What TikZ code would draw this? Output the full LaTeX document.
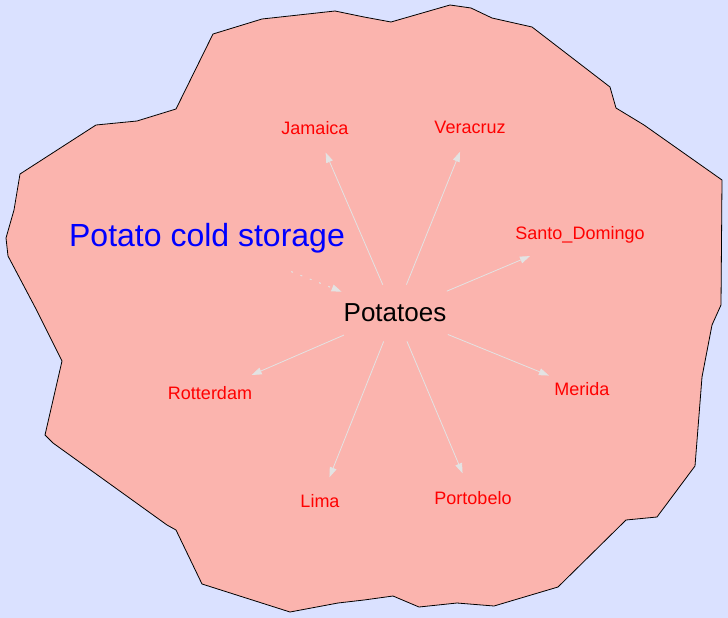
\documentclass[tikz,border=0pt]{standalone}
\usepackage{fontspec}
\setmainfont{Liberation Sans}
\usetikzlibrary{shapes.geometric,arrows.meta}
\definecolor{bgblue}{HTML}{DAE1FF}
\definecolor{salmon}{HTML}{FBB4AE}
\definecolor{edgegray}{HTML}{E3E3E3}
\begin{document}
\begin{tikzpicture}[x=1pt,y=-1pt,
  city/.style={ellipse, inner xsep=0pt, inner ysep=0pt, minimum height=50pt, text=red, font=\fontsize{18}{20}\selectfont},
  hub/.style={ellipse, inner xsep=5pt, inner ysep=0pt, minimum height=57pt, text=black, font=\fontsize{26}{28}\selectfont},
  lbl/.style={ellipse, inner xsep=0pt, inner ysep=0pt, minimum height=74pt, text=blue, font=\fontsize{32}{34}\selectfont},
  link/.style={draw=edgegray, line width=0.8pt, -{Triangle[length=10pt,width=7pt,fill=edgegray]}},
  region/.style={fill=salmon, draw=black, line width=0.8pt}]
\fill[bgblue] (0,0) rectangle (728,618);
\useasboundingbox (0,0) rectangle (728,618);
\path[region] (335,11) -- (364,17) -- (391,22) -- (450,5) -- (471,8) -- (492,18) -- (532,27) -- (610,87) -- (616,108) -- (644,125) -- (722,180) -- (721,305) -- (712,325) -- (702,377) -- (695,466) -- (657,517) -- (626,520) -- (558,587) -- (494,606) -- (457,603) -- (419,607) -- (393,596) -- (364,600) -- (338,603) -- (290,612) -- (202,584) -- (176,530) -- (167,525) -- (53,443) -- (45,435) -- (62,361) -- (36,309) -- (8,256) -- (6,238) -- (14,210) -- (20,174) -- (96,125) -- (137,121) -- (176,109) -- (213,34) -- (262,19) -- cycle;
\node[hub] (pot) at (395,313) {Potatoes};
\node[lbl] (label) at (207,238) {Potato cold storage};
\node[city] (jam) at (315,128) {Jamaica};
\node[city] (ver) at (470,127) {Veracruz};
\node[city] (sd) at (580,235) {Santo\_Domingo};
\node[city] (rot) at (210,393) {Rotterdam};
\node[city] (mer) at (582,389) {Merida};
\node[city] (lima) at (320,501) {Lima};
\node[city] (port) at (473,498) {Portobelo};
\draw[link] (pot) -- (jam);
\draw[link] (pot) -- (ver);
\draw[link] (pot) -- (sd);
\draw[link] (pot) -- (rot);
\draw[link] (pot) -- (mer);
\draw[link] (pot) -- (lima);
\draw[link] (pot) -- (port);
\draw[link, line width=1pt, dash pattern=on 2pt off 8pt] (label) -- (pot);
\end{tikzpicture}
\end{document}
